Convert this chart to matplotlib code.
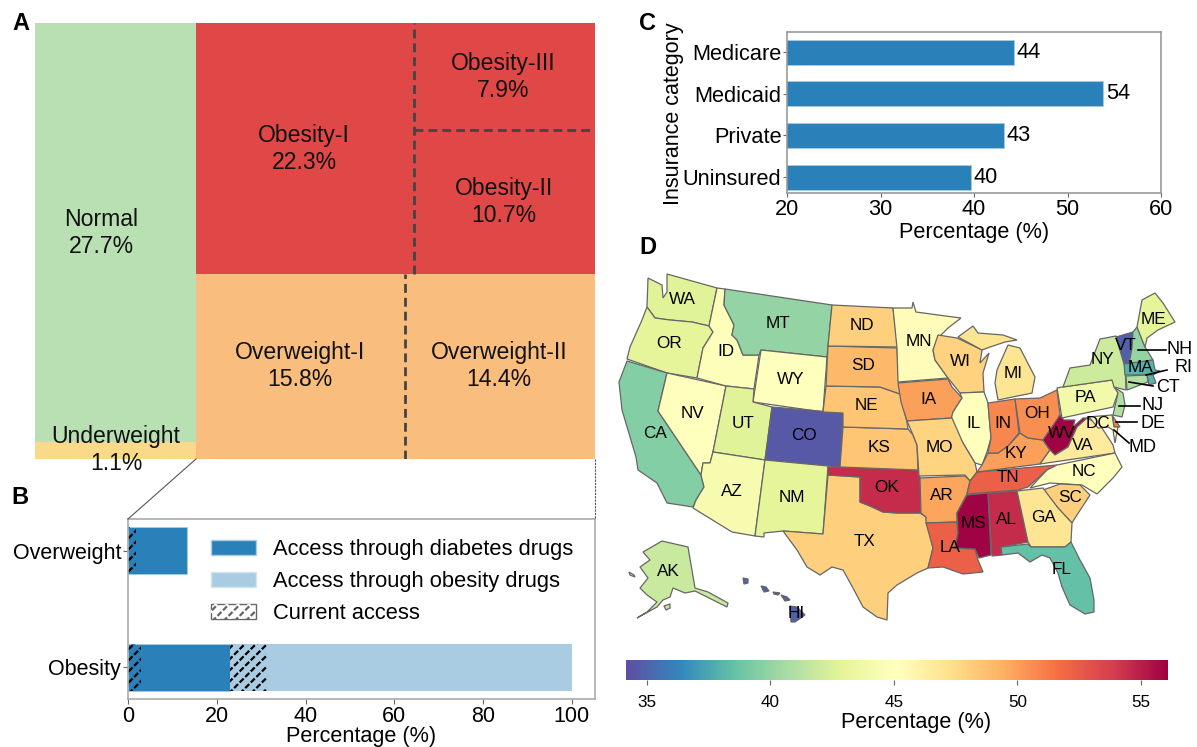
import matplotlib
matplotlib.use("Agg")
import matplotlib.pyplot as plt
import numpy as np
from matplotlib.cm import ScalarMappable
from matplotlib.colors import Normalize
from matplotlib.legend_handler import HandlerTuple
from matplotlib.lines import Line2D
from matplotlib.patches import Patch, Polygon

plt.rcParams["font.family"] = ["Liberation Sans", "DejaVu Sans"]
plt.rcParams["hatch.linewidth"] = 1.6

W, H = 1197, 747

# panel A, share of adults in each BMI class
normal = 27.7
underweight = 1.1
obesity = [22.3, 10.7, 7.9]
overweight = [15.8, 14.4]

# panel B
access_groups = ["Obesity", "Overweight"]
diabetes_access = [23, 13.3]
obesity_access = [77, 0]
current_diabetes = [2.9, 1.7]
current_obesity = [8.4, 0]

# panel C
insurance = ["Uninsured", "Private", "Medicaid", "Medicare"]
insurance_pct = [39.7, 43.2, 53.8, 44.3]
insurance_labels = ["40", "43", "54", "44"]

# panel D, state values
state_values = {
    "WA": 42.8, "OR": 43, "CA": 39.5, "NV": 45, "ID": 44.8, "MT": 40, "WY": 45, "UT": 42.8,
    "CO": 34.5, "AZ": 44.3, "NM": 43, "ND": 48, "SD": 49, "NE": 48.5, "KS": 48.5, "OK": 54.5,
    "TX": 48, "MN": 45.3, "IA": 50, "MO": 47.8, "AR": 49.8, "LA": 52.3, "WI": 47.9, "IL": 45,
    "MI": 47, "IN": 50.8, "OH": 50.6, "KY": 50, "TN": 52.3, "MS": 56, "AL": 54.5, "GA": 47,
    "SC": 48, "NC": 45, "VA": 46.5, "WV": 56, "FL": 38.5, "PA": 44, "NY": 42, "VT": 34.8,
    "NH": 40, "MA": 38, "RI": 38, "CT": 41, "ME": 43, "NJ": 41, "DE": 51, "MD": 45.5,
    "AK": 41.8, "HI": 34.8,
}

# state outlines, in image pixels
outlines = {
    "WA": [[(648,278),(662,285),(663,298),(667,292),(667,274),(717,288),(709,326),(692,322),(670,320),(655,318),(647,307)]],
    "OR": [[(647,307),(655,318),(670,320),(692,322),(709,326),(713,332),(703,348),(697,378),(667,373),(627,359),(630,347),(642,320)]],
    "CA": [[(627,361),(667,373),(658,411),(701,475),(704,487),(696,500),(693,507),(667,503),(657,483),(638,470),(636,457),(622,410),(619,382)]],
    "NV": [[(667,373),(726,386),(713,452),(710,463),(703,463),(701,475),(658,411)]],
    "ID": [[(717,288),(725,289),(724,305),(734,325),(732,335),(737,340),(743,355),(759,355),(754,389),(726,386),(697,378),(703,348),(713,332),(709,326)]],
    "MT": [[(725,289),(832,305),(828,346),(827,357),(761,350),(759,355),(743,355),(737,340),(732,335),(734,325),(724,305)]],
    "WY": [[(761,350),(827,357),(823,412),(753,402)]],
    "UT": [[(726,386),(754,389),(753,402),(772,407),(765,460),(713,452)]],
    "CO": [[(772,407),(843,413),(840,467),(765,460)]],
    "AZ": [[(713,452),(765,460),(755,536),(732,532),(693,508),(696,500),(704,487),(701,475),(703,463),(710,463)]],
    "NM": [[(765,460),(828,466),(823,534),(783,531),(764,533),(764,537),(755,536)]],
    "TX": [[(828,475),(860,477),(860,502),(870,506),(883,512),(897,513),(920,513),(926,517),(927,523),(933,548),(928,568),(917,573),(897,585),(888,593),(887,620),(877,617),(863,607),(853,588),(843,570),(832,567),(820,575),(807,567),(797,550),(783,531),(823,534)]],
    "OK": [[(828,467),(840,467),(918,470),(920,478),(921,513),(920,513),(897,513),(883,512),(870,506),(860,502),(860,477),(828,475)]],
    "KS": [[(843,427),(908,429),(913,435),(917,445),(918,470),(840,467)]],
    "NE": [[(826,386),(880,387),(900,394),(907,422),(908,429),(843,427),(843,413),(823,412)]],
    "SD": [[(828,346),(897,348),(899,383),(900,394),(880,387),(826,386)]],
    "ND": [[(832,305),(893,308),(898,347),(828,346)]],
    "MN": [[(893,308),(912,308),(913,302),(916,312),(938,315),(961,318),(948,328),(938,338),(933,350),(935,360),(948,378),(898,382),(897,348)]],
    "WI": [[(938,335),(957,338),(982,350),(980,363),(989,353),(983,373),(984,392),(960,393),(948,378),(935,360),(933,350)]],
    "IA": [[(898,383),(948,379),(952,387),(962,398),(953,412),(952,418),(907,421),(901,402)]],
    "IL": [[(960,393),(984,392),(988,403),(991,438),(987,452),(982,465),(975,463),(963,443),(950,423),(953,412),(962,398)]],
    "MO": [[(907,421),(952,418),(963,443),(975,463),(977,472),(970,481),(965,475),(919,476),(917,445),(913,435)]],
    "AR": [[(920,478),(965,476),(970,481),(967,494),(957,513),(957,522),(926,523),(926,517),(921,513)]],
    "LA": [[(926,523),(957,522),(958,533),(955,548),(975,549),(978,560),(983,572),(963,574),(943,567),(928,568),(933,548)]],
    "MS": [[(967,495),(988,493),(991,555),(979,558),(975,549),(955,548),(958,533),(957,513)]],
    "AL": [[(988,493),(1017,491),(1028,542),(1001,547),(1002,555),(992,556)]],
    "TN": [[(977,472),(1057,465),(1047,470),(1028,487),(1018,490),(967,494),(970,481)]],
    "KY": [[(977,472),(982,465),(988,453),(998,453),(1008,446),(1020,433),(1028,438),(1043,440),(1050,450),(1040,464)]],
    "IN": [[(988,403),(1015,399),(1019,433),(1008,446),(998,453),(988,453),(991,438)]],
    "OH": [[(1015,399),(1040,398),(1057,390),(1060,415),(1055,425),(1043,440),(1028,438),(1020,433)]],
    "MI": [[(997,370),(1008,345),(1020,348),(1035,377),(1032,393),(998,400),(995,383)],
           [(958,337),(973,326),(978,333),(1003,335),(1017,340),(1005,342),(990,347),(982,350)]],
    "WV": [[(1060,415),(1064,420),(1075,420),(1073,427),(1083,418),(1087,418),(1077,427),(1068,447),(1055,455),(1050,450),(1043,440)]],
    "VA": [[(1050,450),(1055,455),(1068,447),(1077,427),(1087,418),(1100,425),(1113,445),(1115,453),(1040,464)]],
    "NC": [[(1057,465),(1115,453),(1122,467),(1113,478),(1097,494),(1082,485),(1050,483),(1030,488),(1047,470)]],
    "SC": [[(1043,490),(1060,484),(1080,485),(1090,495),(1075,518),(1072,523),(1058,508)]],
    "GA": [[(1017,491),(1043,488),(1058,508),(1072,523),(1071,542),(1065,547),(1031,547),(1028,542)]],
    "FL": [[(1001,547),(1028,544),(1031,547),(1065,547),(1071,542),(1080,560),(1090,578),(1094,600),(1094,612),(1085,614),(1070,605),(1062,587),(1058,573),(1050,558),(1042,555),(1030,562),(1018,553),(1002,555)]],
    "PA": [[(1057,388),(1062,387),(1112,380),(1118,393),(1113,407),(1062,418)]],
    "NY": [[(1063,387),(1070,368),(1090,365),(1100,339),(1116,336),(1125,363),(1126,390),(1114,387),(1112,380)]],
    "VT": [[(1116,337),(1133,332),(1132,348),(1129,363),(1124,364)]],
    "NH": [[(1133,332),(1137,327),(1145,347),(1153,360),(1129,364),(1132,348)]],
    "MA": [[(1124,364),(1153,360),(1155,370),(1160,371),(1153,375),(1125,375)]],
    "RI": [[(1147,375),(1153,375),(1156,383),(1149,385)]],
    "CT": [[(1126,376),(1147,375),(1148,382),(1127,390)]],
    "ME": [[(1142,300),(1155,293),(1163,303),(1175,322),(1158,330),(1147,338),(1145,347),(1137,327)]],
    "NJ": [[(1114,387),(1123,393),(1125,405),(1122,417),(1113,415),(1118,393)]],
    "DE": [[(1112,415),(1120,427),(1114,427)]],
    "MD": [[(1088,417),(1112,415),(1114,427),(1118,427),(1115,443),(1113,430),(1108,427),(1098,428),(1090,418)]],
    "AK": [[(662,541),(688,547),(695,588),(708,592),(728,603),(727,607),(707,597),(695,591),(685,593),(673,588),(670,597),(663,600),(657,607),(637,618),(647,612),(657,602),(647,595),(640,588),(648,578),(640,567),(650,560),(643,552)],
           [(629,572),(634,575),(635,577),(630,575)],
           [(664,606),(670,604),(670,608),(666,610)]],
    "HI": [[(743,578),(748,579),(748,583),(744,584)],
           [(761,586),(766,587),(769,591),(764,592)],
           [(773,592),(780,593),(778,595),(774,594)],
           [(781,595),(787,597),(790,600),(785,601)],
           [(790,606),(797,607),(805,615),(795,622),(791,622)]],
}

# label name, x, y in image pixels
state_labels = [
    ("WA",682,299),("OR",669,343),("CA",655,434),("NV",692,413),("ID",726,351),("MT",778,323),
    ("WY",791,379),("UT",743,423),("CO",804,436),("AZ",732,491),("NM",792,497),("ND",862,326),
    ("SD",863,366),("NE",866,405),("KS",879,447),("OK",887,487),("TX",865,542),("MN",919,342),
    ("IA",928,399),("MO",939,448),("AR",942,496),("LA",950,548),("WI",960,362),("IL",973,424),
    ("MI",1013,374),("IN",1003,424),("OH",1037,414),("KY",1016,454),("TN",1008,478),("MS",974,523),
    ("AL",1006,520),("GA",1044,518),("SC",1070,497),("NC",1084,472),("VA",1083,445),("WV",1062,433),
    ("FL",1062,570),("PA",1085,398),("NY",1102,360),("VT",1126,345),("MA",1140,367),("ME",1153,320),
    ("DC",1098,424),("AK",668,571),("HI",796,613),
]

# label name, label x, y, leader line end x, y, start x, y
offshore_labels = [
    ("NH",1180,349,1166,350,1138,350),("RI",1183,367,1167,370,1146,375),
    ("CT",1168,388,1153,386,1129,382),("NJ",1153,405,1140,406,1119,406),
    ("DE",1153,423,1137,422,1116,422),("MD",1143,447,1129,443,1114,430),
]

color_min = 34.15
color_max = 56.1
color_ticks = [35, 40, 45, 50, 55]


def axes_at(left, top, right, bottom):
    return fig.add_axes([left / W, 1 - bottom / H, (right - left) / W, (bottom - top) / H])


fig = plt.figure(figsize=(W / 100, H / 100), dpi=100)

# ---- A: treemap, areas come from the class shares
ax_a = axes_at(35, 23, 595, 459)
green, red, orange, yellow = "#b9e0b3", "#e04848", "#f9bd7e", "#fbd98a"
total = normal + underweight + sum(obesity) + sum(overweight)
left_w = normal + underweight
ob_h = sum(obesity) / (sum(obesity) + sum(overweight))
ax_a.bar(0, underweight / left_w, left_w, align="edge", color=yellow)
ax_a.bar(0, normal / left_w, left_w, underweight / left_w, align="edge", color=green)
ax_a.bar(left_w, 1 - ob_h, total - left_w, align="edge", color=orange)
ax_a.bar(left_w, ob_h, total - left_w, 1 - ob_h, align="edge", color=red)
ob1_x = left_w + (total - left_w) * obesity[0] / sum(obesity)
ow1_x = left_w + (total - left_w) * overweight[0] / sum(overweight)
ob2_y = (1 - ob_h) + ob_h * obesity[1] / (obesity[1] + obesity[2])
dash = dict(color="#444444", lw=2, ls=(0, (3.2, 1.8)))
ax_a.plot([ob1_x, ob1_x], [1 - ob_h, 1], **dash)
ax_a.plot([ow1_x, ow1_x], [0, 1 - ob_h], **dash)
ax_a.plot([ob1_x, total], [ob2_y, ob2_y], **dash)
ax_a.set_xlim(0, total)
ax_a.set_ylim(0, 1)
ax_a.axis("off")


def a_label(x, y, s):
    fig.text(x / W, 1 - y / H, s, ha="center", va="center", fontsize=16.6, linespacing=1.18, color="#111111")


a_label(101, 233, "Normal\n27.7%")
a_label(116, 450, "Underweight\n1.1%")
a_label(304, 149, "Obesity-I\n22.3%")
a_label(503, 77, "Obesity-III\n7.9%")
a_label(504, 202, "Obesity-II\n10.7%")
a_label(300, 366, "Overweight-I\n15.8%")
a_label(499, 366, "Overweight-II\n14.4%")

# ---- B: access bars
ax_b = axes_at(128, 519, 595, 699)
y_pos = np.arange(len(access_groups))
dark, light = "#2a80b9", "#a9cce3"
ax_b.barh(y_pos, diabetes_access, 0.4, color=dark, edgecolor=light, lw=0.6)
ax_b.barh(y_pos, obesity_access, 0.4, left=diabetes_access, color=light)
# black hatch broken into dashes by a second hatch in the colour of the bar below
for hatch_color, hatch in (("black", "///"), (dark, "\\\\\\")):
    ax_b.barh(y_pos, current_diabetes, 0.4, facecolor="none", edgecolor=hatch_color, hatch=hatch, lw=0)
for hatch_color, hatch in (("black", "///"), (light, "\\\\\\")):
    ax_b.barh(y_pos, current_obesity, 0.4, left=diabetes_access, facecolor="none",
              edgecolor=hatch_color, hatch=hatch, lw=0)
ax_b.set_xlim(0, 105.2)
ax_b.set_ylim(-0.27, 1.27)
ax_b.set_yticks(y_pos, access_groups)
ax_b.set_xticks(range(0, 101, 20))
ax_b.set_xlabel("Percentage (%)", fontsize=15.6, labelpad=-1)
ax_b.tick_params(labelsize=15.5, color="#666666", length=3.5, pad=1.5)
for side in ax_b.spines:
    ax_b.spines[side].set_color("#aaaaaa")
    ax_b.spines[side].set_linewidth(1.2)
handles = [
    Patch(facecolor=dark, edgecolor=light),
    Patch(facecolor=light, edgecolor="#d5e5f0"),
    (Patch(facecolor="white", edgecolor="#666666", hatch="///"),
     Patch(facecolor="none", edgecolor="white", hatch="\\\\\\", lw=0)),
]
ax_b.legend(handles, ["Access through diabetes drugs", "Access through obesity drugs", "Current access"],
            loc="upper left", bbox_to_anchor=(0.178, 0.888), frameon=False, fontsize=15.75,
            handlelength=2.05, handleheight=0.73, handletextpad=0.78, labelspacing=0.5, borderpad=0,
            borderaxespad=0, handler_map={tuple: HandlerTuple(ndivide=1, pad=0)})

# connectors from the treemap down to panel B
fig.add_artist(Line2D([196 / W, 128 / W], [1 - 459 / H, 1 - 519 / H], color="#555555", lw=0.8))
fig.add_artist(Line2D([595 / W, 595 / W], [1 - 459 / H, 1 - 519 / H], color="#555555", lw=0.8, ls=(0, (2, 1))))

# ---- C: insurance bars
ax_c = axes_at(787, 32, 1161, 193)
y_c = np.arange(len(insurance))
bars = ax_c.barh(y_c, insurance_pct, 0.6, color=dark, edgecolor=light, lw=0.6)
ax_c.bar_label(bars, insurance_labels, padding=2, fontsize=15.7)
ax_c.set_xlim(20, 60)
ax_c.set_ylim(-0.38, 3.48)
ax_c.set_yticks(y_c, insurance)
ax_c.set_xticks(range(20, 61, 10))
ax_c.set_xlabel("Percentage (%)", fontsize=15.6, labelpad=2)
ax_c.set_ylabel("Insurance category", fontsize=15.5, labelpad=-1, y=0.49)
ax_c.tick_params(labelsize=15.7, color="#666666", length=3, pad=1)
for side in ax_c.spines:
    ax_c.spines[side].set_color("#999999")
    ax_c.spines[side].set_linewidth(1.2)

# ---- D: map, drawn in image pixels on a full figure axes
ax_d = fig.add_axes([0, 0, 1, 1], facecolor="none")
ax_d.set_xlim(0, W)
ax_d.set_ylim(H, 0)
ax_d.axis("off")
norm = Normalize(color_min, color_max)
cmap = plt.get_cmap("Spectral_r")
for state, parts in outlines.items():
    for part in parts:
        ax_d.add_patch(Polygon(part, closed=True, facecolor=cmap(norm(state_values[state])),
                               edgecolor="#666666", lw=0.9))
for name, x, y in state_labels:
    ax_d.text(x, y, name, ha="center", va="center", fontsize=12.3, color="black")
for name, tx, ty, x0, y0, x1, y1 in offshore_labels:
    ax_d.plot([x0, x1], [y0, y1], color="black", lw=1.2)
    ax_d.text(tx, ty, name, ha="center", va="center", fontsize=13, color="black")

cax = axes_at(626, 660, 1168, 680)
cbar = fig.colorbar(ScalarMappable(norm=norm, cmap=cmap), cax=cax, orientation="horizontal")
cbar.set_ticks(color_ticks)
cbar.ax.tick_params(labelsize=12.3, color="#666666", length=3.5, pad=7)
cbar.set_label("Percentage (%)", fontsize=15.6, labelpad=2, x=0.535)
cbar.outline.set_visible(False)

# panel letters
for letter, x, y in [("A", 21, 23), ("B", 20, 497), ("C", 648, 23), ("D", 648, 248)]:
    fig.text(x / W, 1 - y / H, letter, ha="center", va="center", fontsize=17, fontweight="bold")

fig.savefig("out.png", dpi=100)
